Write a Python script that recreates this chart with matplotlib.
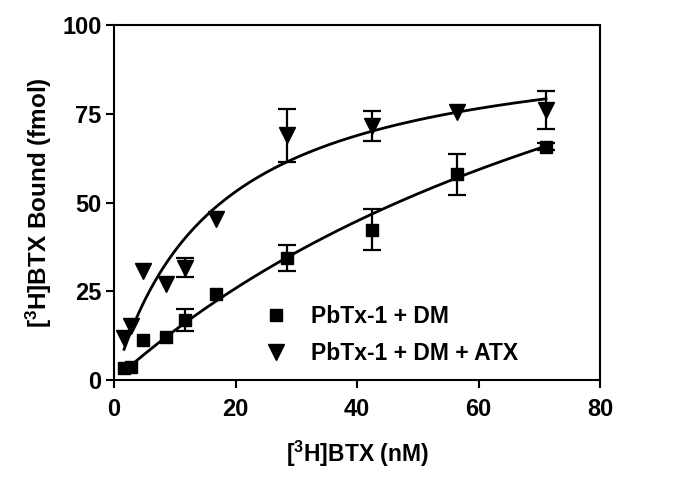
import numpy as np
import matplotlib
matplotlib.use("Agg")
import matplotlib.pyplot as plt

plt.rcParams['font.family'] = ['Liberation Sans', 'DejaVu Sans']
plt.rcParams['font.weight'] = 'bold'
plt.rcParams['mathtext.fontset'] = 'custom'
plt.rcParams['mathtext.bf'] = 'Liberation Sans:bold'
plt.rcParams['mathtext.rm'] = 'Liberation Sans:bold'
plt.rcParams['mathtext.default'] = 'bf'

# concentracoes de [3H]BTX (nM)
conc = [1.65, 2.8, 4.8, 8.6, 11.6, 16.7, 28.5, 42.5, 56.5, 71.1]

# PbTx-1 + DM
dm_y = [3.4, 3.7, 11.3, 12.1, 16.9, 24.2, 34.4, 42.4, 58.0, 65.8]
dm_err = [0, 0, 0, 0, 3.0, 0, 3.6, 5.8, 5.8, 1.0]

# PbTx-1 + DM + ATX
atx_y = [12.0, 15.3, 30.8, 27.0, 31.7, 45.4, 69.0, 71.5, 75.4, 76.1]
atx_err = [0, 0, 0, 0, 2.6, 0, 7.5, 4.2, 0, 5.4]

# parametros do ajuste (one-site binding)
dm_bmax, dm_kd = 167.7, 109.7
atx_bmax, atx_kd = 98.2, 17.0

fig = plt.figure(figsize=(6.75, 4.93), dpi=100)
ax = fig.add_axes([0.169, 0.229, 0.72, 0.72])

xs = np.linspace(conc[0], conc[-1], 200)
ax.plot(xs, dm_bmax * xs / (dm_kd + xs), color='black', lw=2)
ax.plot(xs, atx_bmax * xs / (atx_kd + xs), color='black', lw=2)

# barras de erro so onde existem
def barras(y, err):
    idx = [i for i in range(len(err)) if err[i] > 0]
    ax.errorbar([conc[i] for i in idx], [y[i] for i in idx], yerr=[err[i] for i in idx],
                fmt='none', ecolor='black', elinewidth=1.6, capsize=6.5, capthick=1.6)

barras(dm_y, dm_err)
barras(atx_y, atx_err)

ax.plot(conc, dm_y, 's', color='black', ms=8, label='PbTx-1 + DM')
ax.plot(conc, atx_y, 'v', color='black', ms=11, label='PbTx-1 + DM + ATX')

ax.set_xlim(0, 80)
ax.set_ylim(0, 100)
ax.set_xticks([0, 20, 40, 60, 80])
ax.set_yticks([0, 25, 50, 75, 100])
ax.tick_params(direction='out', length=6, width=1.5, labelsize=17)
ax.tick_params(axis='x', pad=7)
ax.tick_params(axis='y', pad=3)
for lab in ax.get_xticklabels() + ax.get_yticklabels():
    lab.set_fontweight('bold')
for s in ax.spines.values():
    s.set_linewidth(1.5)

ax.set_xlabel('[$^{3}$H]BTX (nM)', fontsize=16.5, fontweight='bold', labelpad=13)
ax.set_ylabel('[$^{3}$H]BTX Bound (fmol)', fontsize=17.5, fontweight='bold', labelpad=6)

leg = ax.legend(loc='lower left', bbox_to_anchor=(0.255, -0.015), frameon=False,
                prop={'size': 16.5, 'weight': 'bold'}, handletextpad=0.8, labelspacing=0.6,
                handlelength=1.5)

fig.savefig('out.png', dpi=100)
